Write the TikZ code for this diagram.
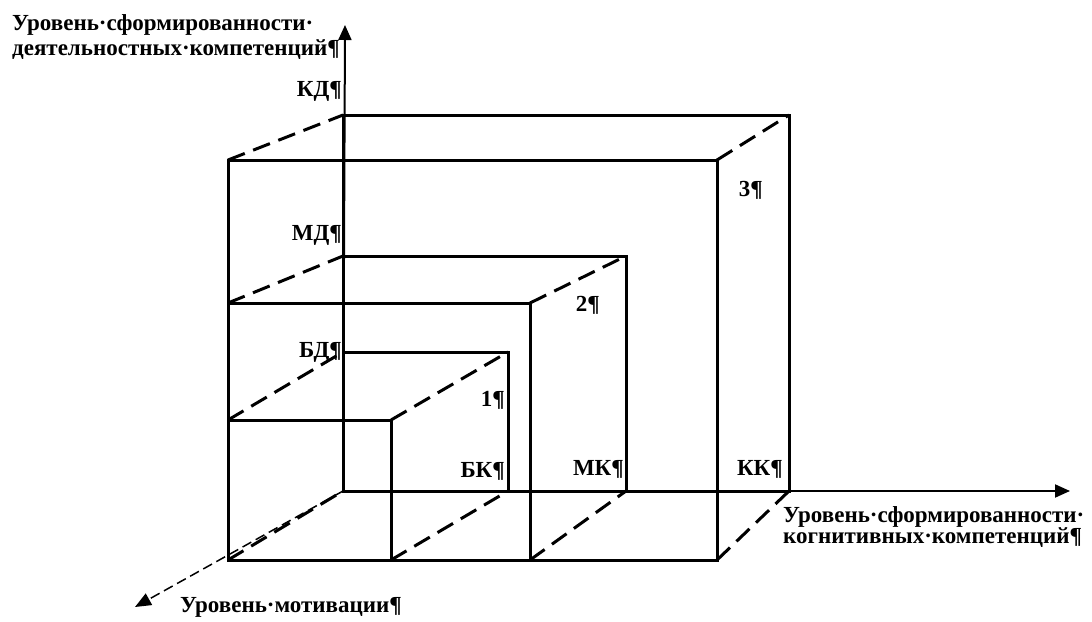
\documentclass[tikz,border=0pt]{standalone}
\usepackage{fontspec}
\setmainfont{Liberation Serif}
\usetikzlibrary{arrows.meta}
\begin{document}
\begin{tikzpicture}[x=1pt,y=-1pt]
\tikzset{
  edge/.style={line width=3pt, line cap=rect},
  hid/.style={line width=3pt, dash pattern=on 18pt off 9pt},
  axisline/.style={line width=2pt, -{Triangle[length=15pt,width=13pt]}},
  zaxis/.style={line width=1.5pt, dash pattern=on 10pt off 5pt, -{Triangle[length=16pt,width=13pt]}},
  lbl/.style={font=\bfseries\fontsize{23}{24}\selectfont, inner sep=0pt},
}
\useasboundingbox (0,0) rectangle (1092,621);
% axes
\coordinate (O) at (343,491);
\coordinate (Ytip) at (345,25);
\coordinate (Xtip) at (1070,491);
\coordinate (Ztip) at (135,607);
% box 3
\coordinate (b3tl) at (343,115); \coordinate (b3tr) at (789,115); \coordinate (b3br) at (789,491);
\coordinate (f3tl) at (228,160); \coordinate (f3tr) at (717,160); \coordinate (f3br) at (717,560); \coordinate (f3bl) at (228,560);
% box 2
\coordinate (b2tl) at (343,256); \coordinate (b2tr) at (626,256); \coordinate (b2br) at (626,491);
\coordinate (f2tl) at (228,303); \coordinate (f2tr) at (530,303); \coordinate (f2br) at (530,560);
% box 1
\coordinate (b1tl) at (343,352); \coordinate (b1tr) at (508,352); \coordinate (b1br) at (508,491);
\coordinate (f1tl) at (228,420); \coordinate (f1tr) at (391,420); \coordinate (f1br) at (391,560);

\draw[axisline] (O) -- (Ytip);
\draw[axisline] (O) -- (Xtip);
\draw[zaxis] (O) -- (Ztip);

\draw[edge] (O) -- (b3tl);
\draw[edge] (O) -- (b3br);
\draw[edge] (b3tl) -- (b3tr) -- (b3br);
\draw[edge] (b2tl) -- (b2tr) -- (b2br);
\draw[edge] (b1tl) -- (b1tr) -- (b1br);
\draw[edge] (f3tl) -- (f3tr) -- (f3br) -- (f3bl) -- cycle;
\draw[edge] (f2tl) -- (f2tr) -- (f2br);
\draw[edge] (f1tl) -- (f1tr) -- (f1br);

\draw[hid] (f3tl) -- (b3tl);
\draw[hid] (f3tr) -- (b3tr);
\draw[hid] (f3br) -- (b3br);
\draw[hid] (f3bl) -- (O);
\draw[hid] (f2tl) -- (b2tl);
\draw[hid] (f2tr) -- (b2tr);
\draw[hid] (f2br) -- (b2br);
\draw[hid] (f1tl) -- (b1tl);
\draw[hid] (f1tr) -- (b1tr);
\draw[hid] (f1br) -- (b1br);

\node[lbl, anchor=base west, align=left, font=\bfseries\fontsize{23}{25}\selectfont] (ylab) at (12,55) {Уровень·сформированности·\\деятельностных·компетенций¶};
\node[lbl, anchor=base west, align=left, font=\bfseries\fontsize{23}{21}\selectfont] (xlab) at (783,543) {Уровень·сформированности·\\когнитивных·компетенций¶};
\node[lbl, anchor=base west] (zlab) at (180,612) {Уровень·мотивации¶};
\node[lbl, anchor=base east] (kd) at (342,96) {КД¶};
\node[lbl, anchor=base east] (md) at (342,240) {МД¶};
\node[lbl, anchor=base east] (bd) at (342,357) {БД¶};
\node[lbl, anchor=base east] (n1) at (505,406) {1¶};
\node[lbl, anchor=base east] (n2) at (600,311) {2¶};
\node[lbl, anchor=base east] (n3) at (763,196) {3¶};
\node[lbl, anchor=base east] (bk) at (505,477) {БК¶};
\node[lbl, anchor=base east] (mk) at (624,475) {МК¶};
\node[lbl, anchor=base east] (kk) at (783,475) {КК¶};
\end{tikzpicture}
\end{document}
